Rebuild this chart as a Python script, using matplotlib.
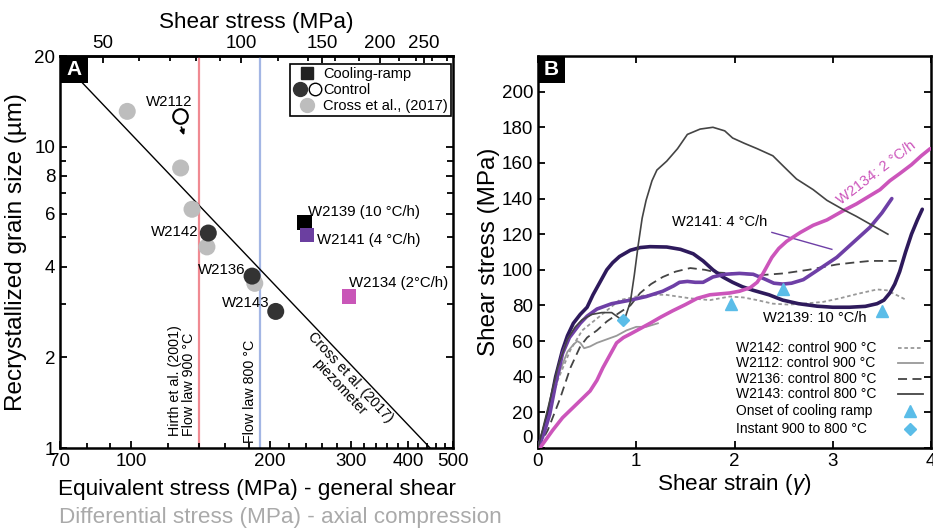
import numpy as np
import matplotlib
matplotlib.use('Agg')
import matplotlib.pyplot as plt
from matplotlib.lines import Line2D
from matplotlib.legend_handler import HandlerTuple
from matplotlib.patches import Rectangle
from matplotlib.ticker import FixedLocator, NullFormatter
import matplotlib.transforms as mtransforms

plt.rcParams['font.family'] = ['Liberation Sans', 'DejaVu Sans']
plt.rcParams['mathtext.fontset'] = 'custom'
plt.rcParams['mathtext.it'] = 'Liberation Sans:italic'
plt.rcParams['mathtext.rm'] = 'Liberation Sans'
plt.rcParams['axes.linewidth'] = 1.8

# ---------------- Panel A data ----------------
cross_stress = [98, 128, 135.5, 146, 185.5]
cross_size = [13.1, 8.5, 6.2, 4.65, 3.52]
control_names = ['W2142', 'W2136', 'W2143']
control_stress = [147, 183, 206]
control_size = [5.17, 3.72, 2.84]
w2112_stress = [127.6]
w2112_size = [12.6]
ramp_names = ['W2139 (10 °C/h)', 'W2141 (4 °C/h)', 'W2134 (2°C/h)']
ramp_stress = [237.6, 241, 297.5]
ramp_size = [5.6, 5.09, 3.19]
ramp_colors = ['#000000', '#6b3fa0', '#c956b8']
piezo_stress = [70, 446]
piezo_size = [19.5, 1.0]
flowlaw_900 = 140
flowlaw_800 = 190

xA_ticks = [70, 100, 200, 300, 400, 500]
yA_ticks = [1, 2, 4, 6, 8, 10, 20]
top_ticks = [50, 100, 150, 200, 250]

# ---------------- Panel B data ----------------
w2139_x = [0, 0.06, 0.12, 0.18, 0.25, 0.3, 0.36, 0.43, 0.5, 0.56, 0.63, 0.7, 0.76, 0.83, 0.94, 1.04, 1.14, 1.31, 1.45, 1.58, 1.68, 1.78, 1.88, 1.98, 2.08, 2.19, 2.35, 2.49, 2.65, 2.84, 3.0, 3.17, 3.33, 3.45, 3.52, 3.58, 3.63, 3.68, 3.74, 3.8, 3.86, 3.91]
w2139_y = [0, 10, 23, 40, 55, 63, 70, 75, 79, 86, 93, 100, 104, 107.5, 111, 112.5, 113, 112.8, 111.5, 109, 105, 100, 96, 93, 90.5, 88.5, 86, 83, 81, 79.6, 79, 79, 79.5, 81, 83, 87, 92, 99, 110, 120, 128, 134]

w2141_x = [0, 0.06, 0.12, 0.18, 0.25, 0.32, 0.43, 0.5, 0.6, 0.75, 0.94, 1.1, 1.27, 1.38, 1.44, 1.52, 1.6, 1.68, 1.78, 1.9, 2.05, 2.19, 2.3, 2.4, 2.49, 2.58, 2.7, 2.85, 3.04, 3.2, 3.38, 3.5, 3.6]
w2141_y = [0, 8, 19, 36, 53, 62, 70, 74, 78, 81, 83, 85, 88, 91, 93, 93.5, 93, 93, 96, 97.5, 98, 97.5, 95, 92.5, 92, 92.5, 94.5, 100, 107, 115, 124, 132, 140]

w2134_x = [0.02, 0.15, 0.25, 0.4, 0.53, 0.6, 0.66, 0.73, 0.8, 0.87, 0.94, 1.04, 1.14, 1.25, 1.37, 1.5, 1.62, 1.75, 1.85, 1.95, 2.05, 2.16, 2.23, 2.29, 2.34, 2.38, 2.45, 2.53, 2.67, 2.8, 2.94, 3.1, 3.24, 3.36, 3.48, 3.58, 3.68, 3.8, 3.9, 3.99]
w2134_y = [0, 10, 17, 25, 32, 38, 45, 52, 59, 62, 64, 67, 70, 73.5, 77, 80.5, 84, 86, 86.5, 87, 88, 90, 93, 98, 103, 107, 112, 116, 121, 125, 128, 133, 137, 141, 145, 150, 154, 159, 164, 168]

w2143_x = [0, 0.1, 0.2, 0.3, 0.38, 0.45, 0.55, 0.65, 0.75, 0.8, 0.85, 0.88, 0.94, 0.98, 1.02, 1.06, 1.1, 1.16, 1.21, 1.31, 1.42, 1.52, 1.65, 1.78, 1.9, 1.98, 2.1, 2.23, 2.39, 2.5, 2.63, 2.8, 2.94, 3.1, 3.24, 3.4, 3.56]
w2143_y = [0, 22, 45, 61, 68, 72, 75, 76, 76, 74, 72, 72, 82, 97, 114, 129, 139, 150, 156, 161, 168, 176, 179, 180, 178, 174, 171, 168, 164, 158, 151, 145, 139, 134, 130, 125, 120]

w2136_x = [0, 0.1, 0.22, 0.33, 0.43, 0.5, 0.6, 0.7, 0.83, 0.94, 1.04, 1.15, 1.27, 1.4, 1.55, 1.7, 1.82, 2.0, 2.26, 2.5, 2.75, 3.04, 3.2, 3.38, 3.5, 3.65]
w2136_y = [0, 10, 27, 45, 57, 62, 66, 71, 76, 80, 87, 92, 96, 99, 101, 100, 98.5, 98, 97, 98, 100, 103, 104, 105, 105, 105]

w2112_x = [0, 0.1, 0.2, 0.3, 0.36, 0.4, 0.43, 0.47, 0.53, 0.6, 0.7, 0.8, 0.9, 1.0, 1.1, 1.22]
w2112_y = [0, 20, 40, 54, 58, 60, 59, 56, 57, 59, 61, 63, 66, 68, 68, 70]

w2142_x = [0, 0.1, 0.2, 0.33, 0.45, 0.63, 0.83, 1.0, 1.14, 1.3, 1.55, 1.75, 1.95, 2.09, 2.23, 2.39, 2.55, 2.7, 2.9, 3.07, 3.25, 3.45, 3.55, 3.68, 3.75]
w2142_y = [0, 18, 38, 55, 66, 74, 83, 85, 86, 86, 84, 83, 85, 84.5, 83, 81, 80.5, 81, 82, 84, 86.5, 89, 88.5, 85, 83]

onset_x = [1.96, 2.49, 3.5]
onset_y = [81, 89, 77]
instant_x = [0.87]
instant_y = [72]

legB_labels = ['W2142: control 900 °C', 'W2112: control 900 °C', 'W2136: control 800 °C',
               'W2143: control 800 °C', 'Onset of cooling ramp', 'Instant 900 to 800 °C']

dark_purple = '#2e1a5c'
mid_purple = '#6e3fa6'
magenta = '#cc55bb'
cyan = '#5bbde8'

TICK_FS = 13.5
XLAB_FS = 16.2
YLAB_FS = 17.5

fig = plt.figure(figsize=(9.33, 5.29), dpi=100)

# ================= Panel A =================
axA = fig.add_axes([0.0643, 0.1531, 0.4212, 0.741])
axA.set_xscale('log')
axA.set_yscale('log')
axA.set_xlim(70, 500)
axA.set_ylim(1, 20)

axA.plot(piezo_stress, piezo_size, color='black', lw=1.0, zorder=2)
axA.axvline(flowlaw_900, color='#f08a92', lw=1.6, zorder=1)
axA.axvline(flowlaw_800, color='#a3b6e4', lw=1.6, zorder=1)

axA.scatter(cross_stress, cross_size, s=150, color='#bdbdbd', edgecolors='none', zorder=3)
axA.scatter(control_stress, control_size, s=150, color='#333333', edgecolors='none', zorder=4)
axA.scatter(w2112_stress, w2112_size, s=110, facecolors='white', edgecolors='black', linewidths=1.5, zorder=4)
axA.scatter(ramp_stress, ramp_size, s=110, marker='s', color=ramp_colors, edgecolors='none', zorder=4)

axA.annotate('', xy=(130.8, 10.7), xytext=(127.9, 11.85),
             arrowprops=dict(arrowstyle='-|>', color='black', lw=1.2, mutation_scale=7), zorder=5)

fs_ann = 10.8
axA.text(120.8, 14.1, 'W2112', fontsize=fs_ann, ha='center', va='center')
ctrl_lab_pos = [(139.7, 5.2), (176.8, 3.89), (200, 3.04)]
for name, (lx, ly) in zip(control_names, ctrl_lab_pos):
    axA.text(lx, ly, name, fontsize=fs_ann, ha='right', va='center')
ramp_lab_pos = [(242, 6.07), (253.5, 4.9), (297.5, 3.52)]
for name, (lx, ly) in zip(ramp_names, ramp_lab_pos):
    axA.text(lx, ly, name, fontsize=fs_ann, ha='left', va='center')

axA.text(flowlaw_900 * 0.985, 1.1, 'Hirth et al. (2001)\nFlow law 900 °C', rotation=90,
         ha='right', va='bottom', multialignment='left', fontsize=10.3, linespacing=1.0)
axA.text(flowlaw_800 * 0.985, 1.04, 'Flow law 800 °C', rotation=90,
         ha='right', va='bottom', fontsize=10.3)
axA.text(291, 1.65, 'Cross et al. (2017)\npiezometer', rotation=-47, rotation_mode='anchor',
         ha='center', va='center', multialignment='center', fontsize=10.3, linespacing=1.0)

axA.set_xticks(xA_ticks)
axA.set_xticklabels([str(t) for t in xA_ticks])
xminor = [80, 90, 120, 140, 160, 180] + [v for v in range(220, 500, 20) if v not in (300, 400)]
axA.xaxis.set_minor_locator(FixedLocator(xminor))
axA.xaxis.set_minor_formatter(NullFormatter())
axA.set_yticks(yA_ticks)
axA.set_yticklabels([str(t) for t in yA_ticks])
axA.yaxis.set_minor_locator(FixedLocator([3, 5, 7, 9]))
axA.yaxis.set_minor_formatter(NullFormatter())
axA.tick_params(which='both', direction='in', right=True, labelsize=TICK_FS, width=1.3)
axA.tick_params(which='major', length=5)
axA.tick_params(which='minor', length=3.5)
axA.tick_params(axis='y', which='minor', length=4)

secA = axA.secondary_xaxis('top', functions=(lambda x: x / np.sqrt(3), lambda x: x * np.sqrt(3)))
secA.set_xticks(top_ticks)
secA.set_xticklabels([str(t) for t in top_ticks])
secA.xaxis.set_minor_locator(FixedLocator([60, 70, 80, 90, 120, 140, 160, 180, 220, 240, 260, 280]))
secA.xaxis.set_minor_formatter(NullFormatter())
secA.tick_params(which='both', direction='in', labelsize=TICK_FS, width=1.3, pad=3)
secA.tick_params(which='major', length=5)
secA.tick_params(which='minor', length=3.5)
secA.set_xlabel('Shear stress (MPa)', fontsize=XLAB_FS, labelpad=5)

axA.set_xlabel('Equivalent stress (MPa) - general shear', fontsize=XLAB_FS)
axA.xaxis.set_label_coords(0.5, -0.080)
fig.text(0.300, 0.021, 'Differential stress (MPa) - axial compression', fontsize=XLAB_FS,
         color='#aaaaaa', ha='center', va='center')
axA.set_ylabel('Recrystallized grain size (µm)', fontsize=YLAB_FS)
axA.yaxis.set_label_coords(-0.084, 0.5)

axA.add_patch(Rectangle((0, 1 - 0.069), 0.0712, 0.069, transform=axA.transAxes,
                        facecolor='black', edgecolor='none', zorder=6, clip_on=False))
axA.text(0.0356, 1 - 0.0345, 'A', transform=axA.transAxes, color='white', fontsize=15,
         fontweight='bold', ha='center', va='center', zorder=7)

legA_handles = [
    Line2D([], [], marker='s', ls='none', color='#222222', markersize=8),
    (Line2D([], [], marker='o', ls='none', color='#333333', markersize=10),
     Line2D([], [], marker='o', ls='none', markerfacecolor='white', markeredgecolor='black',
            markeredgewidth=1.0, markersize=9)),
    Line2D([], [], marker='o', ls='none', color='#bdbdbd', markersize=10),
]
legA = axA.legend(legA_handles, ['Cooling-ramp', 'Control', 'Cross et al., (2017)'],
                  handler_map={tuple: HandlerTuple(ndivide=None, pad=0.1)},
                  loc='upper right', bbox_to_anchor=(0.995, 0.98), fontsize=10.5,
                  frameon=True, fancybox=False, edgecolor='black', framealpha=1,
                  borderpad=0.2, labelspacing=0.15, handletextpad=0.1, handlelength=2.0,
                  borderaxespad=0.0)
legA.get_frame().set_linewidth(1.2)

# ================= Panel B =================
axB = fig.add_axes([0.5766, 0.1531, 0.4214, 0.741])
axB.set_xlim(0, 4)
axB.set_ylim(0, 220)

axB.plot(w2142_x, w2142_y, color='#999999', lw=1.3, ls=(0, (2, 1.5)), zorder=2)
axB.plot(w2112_x, w2112_y, color='#999999', lw=1.3, zorder=2)
axB.plot(w2136_x, w2136_y, color='#444444', lw=1.3, ls=(0, (5, 3)), zorder=2)
axB.plot(w2139_x, w2139_y, color=dark_purple, lw=2.6, zorder=3, solid_capstyle='round')
axB.plot(w2141_x, w2141_y, color=mid_purple, lw=2.6, zorder=3, solid_capstyle='round')
axB.plot(w2134_x, w2134_y, color=magenta, lw=2.6, zorder=3, solid_capstyle='round')
axB.plot(w2143_x, w2143_y, color='#444444', lw=1.2, zorder=4)
axB.plot(onset_x, onset_y, ls='none', marker='^', color=cyan, markersize=9, zorder=5)
axB.plot(instant_x, instant_y, ls='none', marker='D', color=cyan, markersize=6.5, zorder=5)

axB.text(1.36, 126.6, 'W2141: 4 °C/h', fontsize=10.5, ha='left', va='center')
axB.plot([2.38, 2.99], [121, 111.5], color=mid_purple, lw=1.0)
axB.text(2.29, 72.8, 'W2139: 10 °C/h', fontsize=10.5, ha='left', va='center')
axB.text(3.44, 154.7, 'W2134: 2 °C/h', fontsize=10.5, color=magenta, rotation=37.5,
         rotation_mode='anchor', ha='center', va='center')

axB.set_xticks([0, 1, 2, 3, 4])
axB.set_yticks(list(range(0, 201, 20)))
axB.tick_params(which='both', direction='in', right=True, top=True, labelsize=TICK_FS,
                length=5, width=1.3)
for lbl in axB.get_yticklabels():
    if lbl.get_text() == '0':
        lbl.set_transform(lbl.get_transform() +
                          mtransforms.ScaledTranslation(0, 8 / 72, fig.dpi_scale_trans))
axB.set_xlabel('Shear strain ($\\mathit{\\gamma}$)', fontsize=XLAB_FS)
axB.xaxis.set_label_coords(0.5, -0.062)
axB.set_ylabel('Shear stress (MPa)', fontsize=YLAB_FS)
axB.yaxis.set_label_coords(-0.097, 0.5)

axB.add_patch(Rectangle((0, 1 - 0.069), 0.0687, 0.069, transform=axB.transAxes,
                        facecolor='black', edgecolor='none', zorder=6, clip_on=False))
axB.text(0.0343, 1 - 0.0345, 'B', transform=axB.transAxes, color='white', fontsize=15,
         fontweight='bold', ha='center', va='center', zorder=7)

# legend for panel B (text left-aligned, keys on the right)
legB_styles = [
    dict(color='#999999', lw=1.3, ls=(0, (2, 1.5))),
    dict(color='#999999', lw=1.3),
    dict(color='#444444', lw=1.3, ls=(0, (5, 3))),
    dict(color='#444444', lw=1.3),
    dict(ls='none', marker='^', color=cyan, markersize=9),
    dict(ls='none', marker='D', color=cyan, markersize=6.5),
]
row_y = [0.255, 0.217, 0.176, 0.138, 0.094, 0.048]
for lab, sty, yy in zip(legB_labels, legB_styles, row_y):
    axB.text(0.504, yy, lab, transform=axB.transAxes, fontsize=10, ha='left', va='center')
    if sty.get('marker'):
        axB.plot([0.947], [yy], transform=axB.transAxes, clip_on=False, **sty)
    else:
        axB.plot([0.916, 0.980], [yy, yy], transform=axB.transAxes, clip_on=False, **sty)

fig.savefig('out.png', dpi=100)
